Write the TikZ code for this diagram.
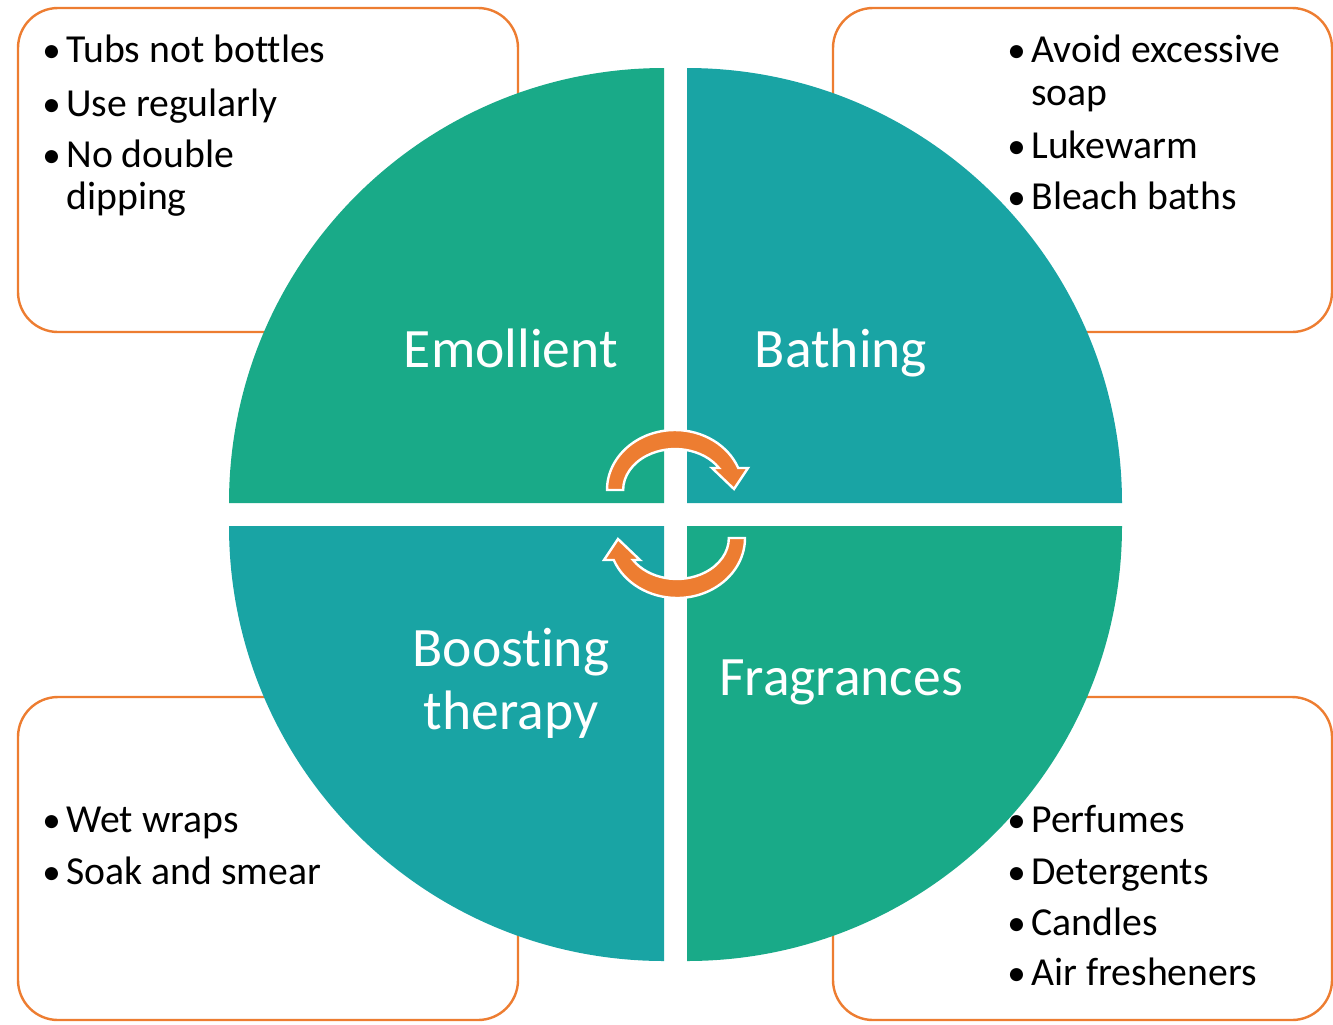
\documentclass[tikz,border=0pt]{standalone}
\usepackage{fontspec}
\setmainfont{Carlito}[Ligatures=NoCommon]
\begin{document}
\definecolor{quadgreen}{HTML}{19AA88}
\definecolor{quadteal}{HTML}{19A4A4}
\definecolor{accent}{HTML}{ED7D31}
\begin{tikzpicture}[x=0.5pt,y=-0.5pt,
  notebox/.style={draw=accent, line width=1.2pt, fill=white, rounded corners=20pt},
  qlabel/.style={text=white, font=\fontsize{27.8}{31}\selectfont, anchor=base, inner sep=0pt},
  itemtext/.style={anchor=base west, inner sep=0pt, font=\fontsize{19.85}{23}\selectfont},
  itemdot/.style={anchor=base west, inner sep=0pt, font=\fontsize{18.5}{23}\selectfont},
  cycarrow/.style={fill=accent, draw=white, line width=1.2pt, line join=miter}
]
\useasboundingbox (0,0) rectangle (1333,1024);

% note boxes behind the wheel
\draw[notebox] (18,8) rectangle (518,332);
\draw[notebox] (833,8) rectangle (1332,332);
\draw[notebox] (18,697) rectangle (518,1020);
\draw[notebox] (833,697) rectangle (1332,1020);

% four quarter discs
\fill[quadgreen] (664,503) -- (229,503) arc[start angle=180, end angle=270, radius=435] -- cycle;
\fill[quadteal]  (687,503) -- (687,68)  arc[start angle=270, end angle=360, radius=435] -- cycle;
\fill[quadgreen] (687,526) -- (1122,526) arc[start angle=0, end angle=90, radius=435] -- cycle;
\fill[quadteal]  (664,526) -- (664,961) arc[start angle=90, end angle=180, radius=435] -- cycle;

% quadrant titles
\node[qlabel] (emollient) at (511,367) {Emollient};
\node[qlabel] (bathing) at (841,367) {Bathing};
\node[qlabel] (boosting) at (511,666) {Boosting};
\node[qlabel] (therapy) at (511,729) {therapy};
\node[qlabel] (fragrances) at (841,695) {Fragrances};

% circular arrows in the middle
\path[cycarrow] (607,490) arc[start angle=180, end angle=338.5, x radius=68, y radius=60]
  -- (748,468) -- (734,489) -- (712,468) -- (719,468)
  arc[start angle=327.5, end angle=180, x radius=52, y radius=41] -- cycle;
\begin{scope}[rotate around={180:(676,514)}]
\path[cycarrow] (607,490) arc[start angle=180, end angle=338.5, x radius=68, y radius=60]
  -- (748,468) -- (734,489) -- (712,468) -- (719,468)
  arc[start angle=327.5, end angle=180, x radius=52, y radius=41] -- cycle;
\end{scope}

% top left notes
\node[itemdot] (tlb1) at (42,62) {\textbullet};
\node[itemtext] (tl1) at (66,62) {Tubs not bottles};
\node[itemdot] (tlb2) at (42,116) {\textbullet};
\node[itemtext] (tl2) at (66,116) {Use regularly};
\node[itemdot] (tlb3) at (42,167) {\textbullet};
\node[itemtext] (tl3) at (66,167) {No double};
\node[itemtext] (tl3b) at (66,209) {dipping};

% top right notes
\node[itemdot] (trb1) at (1007,62) {\textbullet};
\node[itemtext] (tr1) at (1031,62) {Avoid excessive};
\node[itemtext] (tr1b) at (1031,105) {soap};
\node[itemdot] (trb2) at (1007,158) {\textbullet};
\node[itemtext] (tr2) at (1031,158) {Lukewarm};
\node[itemdot] (trb3) at (1007,209) {\textbullet};
\node[itemtext] (tr3) at (1031,209) {Bleach baths};

% bottom left notes
\node[itemdot] (blb1) at (42,832) {\textbullet};
\node[itemtext] (bl1) at (66,832) {Wet wraps};
\node[itemdot] (blb2) at (42,884) {\textbullet};
\node[itemtext] (bl2) at (66,884) {Soak and smear};

% bottom right notes
\node[itemdot] (brb1) at (1007,832) {\textbullet};
\node[itemtext] (br1) at (1031,832) {Perfumes};
\node[itemdot] (brb2) at (1007,884) {\textbullet};
\node[itemtext] (br2) at (1031,884) {Detergents};
\node[itemdot] (brb3) at (1007,935) {\textbullet};
\node[itemtext] (br3) at (1031,935) {Candles};
\node[itemdot] (brb4) at (1007,985) {\textbullet};
\node[itemtext] (br4) at (1031,985) {Air fresheners};
\end{tikzpicture}
\end{document}
